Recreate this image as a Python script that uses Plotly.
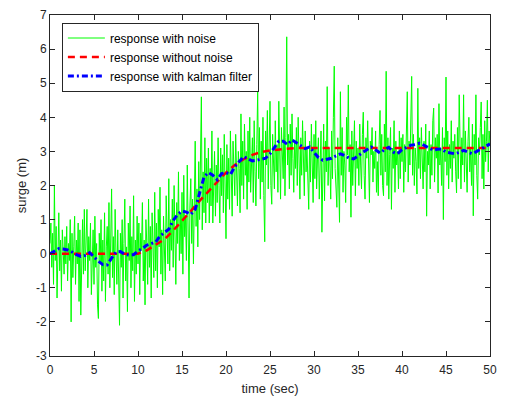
import numpy as np
import plotly.graph_objects as go

# time axis for the noisy signal (dt = 0.1 s)
t_noise = [round(i * 0.1, 1) for i in range(501)]

noise_vals = [
    0.3, 0.9, -0.4, 0.6, -0.9, 2.0, -0.2, 0.8, -1.3, 0.5,
    1.2, -0.5, 0.4, -1.1, 0.7, 0.1, -0.6, 0.5, -0.3, 0.8,
    -0.8, 0.3, -0.2, 1.0, -2.0, 0.6, -0.7, 0.2, 1.1, -0.9,
    0.4, -0.3, 0.9, -1.4, 0.7, -1.8, 0.2, 1.0, -0.6, 1.3,
    -0.5, 0.3, 1.3, -1.0, 0.5, -0.2, 0.9, -1.2, 0.1, 0.7,
    -0.9, 1.1, -0.4, 0.3, -1.5, -1.9, 0.6, -0.3, 1.0, -1.1,
    0.4, -0.8, 1.2, -1.4, 0.2, 0.8, -0.6, 1.5, -1.0, 0.3,
    1.9, -0.7, 0.5, -1.2, 1.3, 0.0, -0.9, 0.7, -1.6, -2.1,
    0.6, -0.4, 1.0, -1.3, 0.3, 1.6, -0.8, 0.2, -1.7, 0.9,
    -0.2, 1.4, -1.0, 0.5, -0.5, 1.7, -1.4, 0.4, -0.6, 1.1,
    -0.3, 0.9, -1.2, 0.6, 0.1, 1.5, -0.8, 0.4, -1.5, 1.0,
    0.3, -0.9, 1.6, -0.4, 0.8, -1.3, 1.2, 0.0, -0.7, 1.8,
    -0.5, 0.9, -1.0, 1.3, 0.2, 1.95, -0.6, 0.7, -1.2, 1.1,
    0.2, -0.8, 1.7, 0.4, -0.3, 2.2, -0.5, 1.0, 0.1, 1.6,
    -0.4, 2.0, 0.6, -0.9, 1.5, 0.3, 2.4, -0.2, 1.2, 0.0,
    1.8, -0.6, 2.3, 0.5, 1.1, -0.2, 2.6, 0.4, -1.3, 1.4,
    2.2, 0.3, 1.6, -0.3, 2.5, 3.3, 0.8, 1.9, 0.2, 2.7,
    1.0, 3.0, 4.6, 0.7, 2.4, 1.2, 3.4, 0.9, 2.8, 1.5,
    3.1, 0.9, 2.5, 1.4, 3.6, 0.9, 2.2, 3.0, 1.1, 2.6,
    1.5, 3.4, 2.0, 0.9, 3.1, 1.7, 2.9, 1.2, 3.5, 2.2,
    0.44, 3.2, 1.6, 2.8, 1.3, 3.6, 2.0, 1.1, 3.3, 2.4,
    1.7, 3.5, 2.2, 1.4, 3.0, 2.5, 1.2, 4.1, 2.0, 3.3,
    1.6, 3.8, 2.3, 3.0, 1.3, 3.6, 2.1, 4.0, 1.8, 2.9,
    3.4, 1.5, 3.9, 2.4, 1.4, 3.2, 4.77, 2.2, 3.7, 1.6,
    3.3, 2.1, 4.0, 1.7, 0.35, 3.6, 2.6, 4.2, 1.9, 3.1,
    4.47, 2.0, 1.45, 3.5, 2.7, 1.9, 3.9, 2.4, 3.2, 1.8,
    4.47, 2.5, 1.6, 3.7, 2.9, 2.2, 4.3, 1.7, 3.4, 6.36,
    2.6, 3.5, 1.9, 3.8, 2.3, 4.1, 2.8, 1.8, 3.3, 2.5,
    3.7, 2.0, 4.0, 2.7, 1.6, 3.4, 2.3, 3.9, 2.9, 1.7,
    3.6, 2.4, 3.1, 1.8, 1.3, 3.3, 2.1, 3.8, 2.6, 1.5,
    3.5, 2.2, 3.9, 1.9, 2.8, 3.4, 1.6, 2.5, 3.6, 0.63,
    2.9, 3.8, 1.55, 3.3, 2.4, 4.9, 2.0, 3.1, 2.7, 1.6,
    3.6, 2.2, 4.0, 5.5, 2.5, 1.9, 1.36, 3.4, 2.1, 0.92,
    4.75, 2.3, 3.7, 1.8, 3.0, 2.6, 1.5, 4.0, 2.9, 4.95,
    2.4, 3.2, 1.07, 3.6, 2.0, 2.8, 3.9, 1.7, 3.3, 2.5,
    3.1, 2.0, 3.8, 2.6, 1.9, 3.5, 4.15, 2.3, 1.6, 3.4,
    2.8, 3.9, 2.2, 1.5, 3.3, 2.9, 3.7, 2.1, 3.0, 2.5,
    3.6, 1.8, 2.7, 1.7, 3.2, 4.2, 2.3, 3.5, 2.0, 1.7,
    3.8, 2.4, 5.35, 2.0, 3.4, 1.6, 2.9, 3.7, 1.3, 3.1,
    2.5, 3.9, 1.8, 3.3, 2.6, 3.0, 1.9, 3.6, 2.2, 3.4,
    2.7, 3.5, 1.8, 3.2, 2.4, 3.8, 4.75, 2.1, 3.3, 2.6,
    3.9, 5.2, 2.3, 3.5, 2.0, 3.1, 2.7, 1.75, 4.85, 2.5,
    3.4, 2.2, 3.7, 2.9, 1.9, 3.3, 2.4, 3.8, 1.1, 3.0,
    2.6, 3.6, 1.9, 3.2, 2.3, 3.9, 4.27, 2.1, 3.4, 2.8,
    3.5, 1.78, 4.4, 2.6, 3.1, 2.0, 3.7, 1.0, 3.4, 2.7,
    5.18, 2.3, 3.6, 1.9, 3.2, 2.5, 3.9, 2.1, 3.3, 2.8,
    3.5, 2.4, 1.78, 3.7, 2.2, 4.66, 2.9, 1.9, 3.4, 2.6,
    4.66, 2.1, 3.6, 2.7, 1.8, 3.3, 4.0, 2.4, 3.1, 2.0,
    3.8, 1.11, 3.5, 2.6, 4.66, 2.3, 1.6, 3.4, 2.9, 3.7,
    4.45, 2.2, 3.5, 1.9, 3.9, 2.7, 3.3, 4.5, 2.4, 3.6,
    3.2,
]

# true response (1 s resolution)
t_true = list(range(51))
true_vals = [0, 0, 0, 0, 0, 0, 0, 0, 0, 0,
             0.0, 0.1, 0.25, 0.42, 0.68, 0.95, 1.25, 1.55, 1.82, 2.1,
             2.38, 2.6, 2.77, 2.9, 2.98, 3.03, 3.06, 3.08, 3.1, 3.1,
             3.1, 3.1, 3.1, 3.1, 3.1, 3.1, 3.1, 3.1, 3.1, 3.1,
             3.1, 3.1, 3.1, 3.1, 3.1, 3.1, 3.1, 3.1, 3.1, 3.1, 3.1]

# kalman filter estimate (0.5 s resolution)
t_kf = [i * 0.5 for i in range(101)]
kf_vals = [0.0, 0.08, 0.15, 0.14, 0.11, 0.05, -0.03, -0.08, -0.05, 0.03,
           -0.1, -0.22, -0.32, -0.33, -0.13, 0.05, 0.06, -0.02, -0.04, -0.03,
           0.08, 0.15, 0.25, 0.3, 0.34, 0.52, 0.62, 0.72, 0.97, 1.15,
           1.25, 1.22, 1.15, 1.3, 1.78, 2.25, 2.38, 2.3, 2.17, 2.35,
           2.38, 2.32, 2.55, 2.7, 2.85, 2.78, 2.72, 2.74, 2.76, 2.8,
           2.93, 3.12, 3.3, 3.3, 3.2, 3.34, 3.25, 3.15, 3.08, 3.13,
           2.98, 2.82, 2.74, 2.78, 2.8, 2.87, 2.93, 2.88, 2.8, 2.78,
           2.86, 2.96, 3.05, 3.13, 3.05, 2.95, 3.05, 3.12, 2.98, 2.93,
           3.05, 3.12, 3.18, 3.2, 3.24, 3.18, 3.1, 3.04, 3.06, 3.07,
           2.98, 2.96, 2.93, 2.97, 3.03, 2.98, 2.93, 3.0, 3.08, 3.15,
           3.22]

x_ticks = list(range(0, 51, 5))
x_labels = [str(v) for v in x_ticks]
y_ticks = list(range(-3, 8))
y_labels = [str(v) for v in y_ticks]  # ASCII hyphen minus, as in the original

font_family = "Liberation Sans, Arial, sans-serif"
axis_color = "#262626"

fig = go.Figure()
fig.add_trace(go.Scatter(x=t_noise, y=noise_vals, mode="lines",
                         name="response with noise",
                         line=dict(color="#00ff00", width=1)))
fig.add_trace(go.Scatter(x=t_true, y=true_vals, mode="lines",
                         name="response without noise",
                         line=dict(color="#ff0000", width=2.5, dash="7px,5px")))
fig.add_trace(go.Scatter(x=t_kf, y=kf_vals, mode="lines",
                         name="response with kalman filter",
                         line=dict(color="#0000ff", width=3, dash="6px,3px,2px,3px")))

axis_common = dict(
    showline=True, linecolor=axis_color, linewidth=1, mirror="ticks",
    ticks="inside", ticklen=5, tickcolor=axis_color, tickwidth=1,
    showgrid=False, zeroline=False,
    tickfont=dict(family=font_family, size=12, color=axis_color),
)

fig.update_layout(
    width=508, height=403,
    margin=dict(l=50, r=18, t=8, b=47),
    paper_bgcolor="white", plot_bgcolor="white",
    font=dict(family=font_family, size=12, color=axis_color),
    xaxis=dict(range=[0, 50], tickvals=x_ticks, ticktext=x_labels,
               ticklabelstandoff=3,
               title=dict(text="time (sec)", font=dict(size=13), standoff=7),
               **axis_common),
    yaxis=dict(range=[-3, 7], tickvals=y_ticks, ticktext=y_labels,
               title=dict(text="surge (m)", font=dict(size=13), standoff=6),
               **axis_common),
    legend=dict(x=0.027, y=0.978, xanchor="left", yanchor="top",
                bgcolor="white", bordercolor=axis_color, borderwidth=1,
                font=dict(family=font_family, size=12, color="#000000"),
                tracegroupgap=0, itemwidth=37),
    showlegend=True,
)

fig.write_html("out.html")
